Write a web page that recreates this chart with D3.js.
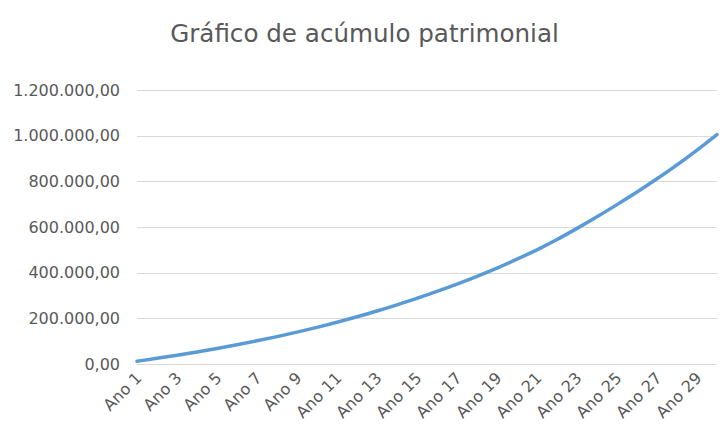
<!DOCTYPE html>
<html>
<head>
<meta charset="utf-8">
<script src="https://cdn.jsdelivr.net/npm/d3@7"></script>
<style>
  html, body { margin: 0; padding: 0; background: #ffffff; }
  svg { display: block; font-family: "DejaVu Sans", sans-serif; }
</style>
</head>
<body>
<svg id="chart" width="723" height="432"></svg>
<script>
const title = "Gráfico de acúmulo patrimonial";
const categories = Array.from({length: 30}, (_, i) => "Ano " + (i + 1));
const values = [
  12000, 24800, 38300, 52700, 68000, 84300, 101600, 120000, 139600, 160500,
  183000, 207000, 232000, 259000, 288000, 318000, 350000, 384000, 420000, 459000,
  500000, 545000, 594000, 645000, 698000, 753000, 811000, 872000, 937000, 1005000
];
const yTicks = [0, 200000, 400000, 600000, 800000, 1000000, 1200000];

const svg = d3.select("#chart");
const margin = {left: 137, right: 723 - 717, top: 90, bottom: 432 - 364};
const W = 723, H = 432;

const x = d3.scalePoint().domain(categories).range([margin.left, W - margin.right]);
const y = d3.scaleLinear().domain([0, 1200000]).range([H - margin.bottom, margin.top]);

const fmt = v => {
  const s = d3.format(",.2f")(v);
  return s.replace(/,/g, "#").replace(".", ",").replace(/#/g, ".");
};

// Title
svg.append("text")
  .attr("x", 364.5).attr("y", 42)
  .attr("text-anchor", "middle")
  .attr("fill", "#595959")
  .style("font-size", "24.6px")
  .text(title);

// Gridlines
svg.append("g")
  .selectAll("line").data(yTicks).join("line")
  .attr("x1", margin.left).attr("x2", W - margin.right)
  .attr("y1", d => Math.round(y(d)) + 0.5).attr("y2", d => Math.round(y(d)) + 0.5)
  .attr("stroke", "#d9d9d9").attr("stroke-width", 1);

// Y axis labels
const yAxis = d3.axisLeft(y).tickValues(yTicks).tickFormat(fmt).tickSize(0).tickPadding(0);
const gy = svg.append("g").attr("transform", `translate(120,0)`).call(yAxis);
gy.select(".domain").remove();
gy.selectAll("text").attr("fill", "#595959").style("font-size", "16px")
  .style("font-family", "'DejaVu Sans', sans-serif");

// X axis labels
const shown = categories.filter((d, i) => i % 2 === 0);
const xAxis = d3.axisBottom(x).tickValues(shown).tickSize(0).tickPadding(0);
const gx = svg.append("g").attr("transform", `translate(-3,${y(0) + 7})`).call(xAxis);
gx.select(".domain").remove();
gx.selectAll("text")
  .attr("fill", "#595959").style("font-size", "16px")
  .style("font-family", "'DejaVu Sans', sans-serif")
  .attr("text-anchor", "end")
  .attr("dy", "0.72em").attr("y", 0).attr("x", 0)
  .attr("transform", "rotate(-45)");

// Line
const line = d3.line()
  .x((d, i) => x(categories[i]))
  .y(d => y(d))
  .curve(d3.curveMonotoneX);
svg.append("path")
  .datum(values)
  .attr("d", line)
  .attr("fill", "none")
  .attr("stroke", "#5b9bd5")
  .attr("stroke-width", 3.5)
  .attr("stroke-linecap", "round")
  .attr("stroke-linejoin", "round");
</script>
</body>
</html>
